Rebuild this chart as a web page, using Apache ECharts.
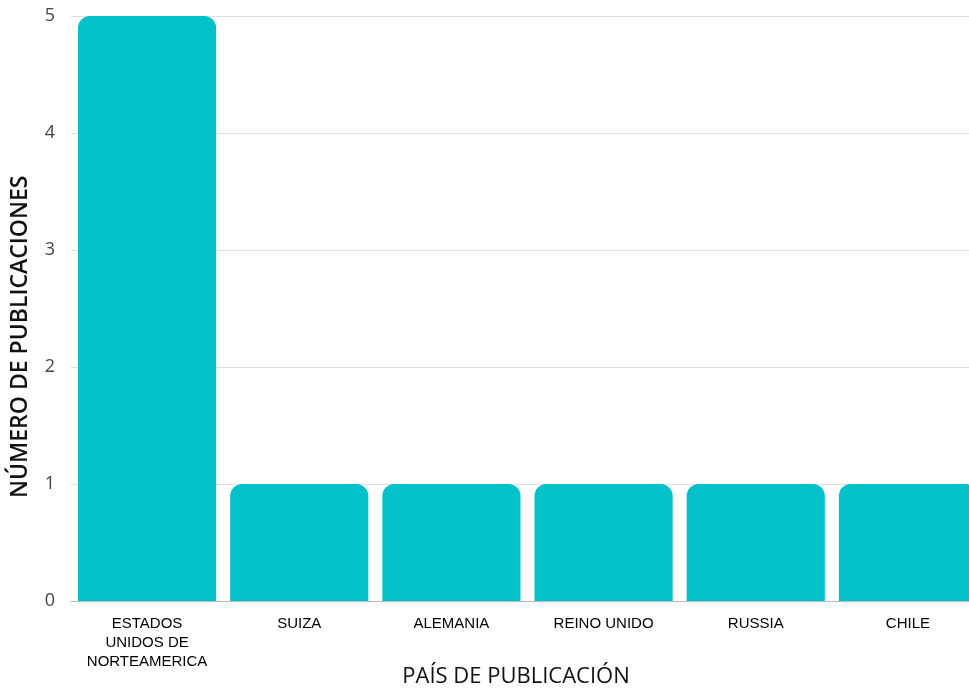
<!DOCTYPE html>
<html>
<head>
<meta charset="utf-8">
<script src="https://cdn.jsdelivr.net/npm/echarts@6/dist/echarts.min.js"></script>
<style>
  html, body { margin: 0; padding: 0; background: #fff; overflow: hidden; }
  #main { width: 990px; height: 689px; }
</style>
</head>
<body>
<div id="main"></div>
<script>
const countries = ['ESTADOS\nUNIDOS DE\nNORTEAMERICA', 'SUIZA', 'ALEMANIA', 'REINO UNIDO', 'RUSSIA', 'CHILE'];
const publications = [5, 1, 1, 1, 1, 1];
const yTicks = [0, 1, 2, 3, 4, 5];

const chart = echarts.init(document.getElementById('main'));
chart.setOption({
  animation: false,
  grid: { left: 71, right: 6, top: 16, bottom: 88, containLabel: false },
  xAxis: {
    type: 'category',
    data: countries,
    axisTick: { show: false },
    axisLine: { lineStyle: { color: '#bbb', width: 1 } },
    axisLabel: {
      interval: 0,
      margin: 13,
      color: '#000',
      fontFamily: 'Liberation Sans',
      fontSize: 15,
      lineHeight: 19
    }
  },
  yAxis: {
    type: 'value',
    min: yTicks[0],
    max: yTicks[yTicks.length - 1],
    interval: 1,
    axisLine: { show: false },
    axisTick: { show: false },
    splitLine: { lineStyle: { color: '#dedede', width: 1 } },
    axisLabel: {
      margin: 16,
      color: '#444',
      fontFamily: 'Open Sans',
      fontSize: 18
    }
  },
  graphic: [
    {
      type: 'text',
      x: 9, y: 498,
      rotation: Math.PI / 2,
      style: {
        text: 'NÚMERO DE PUBLICACIONES',
        fill: '#111',
        font: '600 23px "Open Sans"'
      }
    },
    {
      type: 'text',
      x: 516, y: 677,
      style: {
        text: 'PAÍS DE PUBLICACIÓN',
        fill: '#111',
        font: '500 22px "Open Sans"',
        align: 'center',
        verticalAlign: 'middle'
      }
    }
  ],
  series: [{
    type: 'bar',
    data: publications,
    barCategoryGap: '9.2%',
    itemStyle: { color: '#02C1C9', borderRadius: [12, 12, 0, 0] }
  }]
});
</script>
</body>
</html>
